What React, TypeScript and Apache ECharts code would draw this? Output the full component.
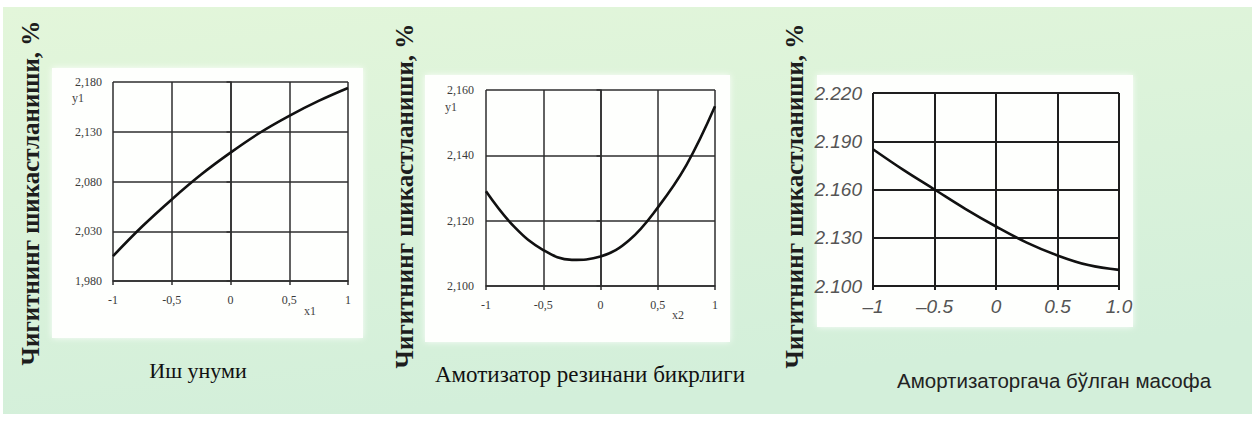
import React, { useEffect, useRef } from 'react';
import * as echarts from 'echarts';

// Factor levels (coded units) shared by all three plots
const X_POINTS = [-1, -0.75, -0.5, -0.25, 0, 0.25, 0.5, 0.75, 1];

// Seed damage, % — response to each factor
const WORK_OUTPUT = [2.005, 2.035, 2.062, 2.087, 2.109, 2.129, 2.146, 2.161, 2.174];
const RUBBER_STIFFNESS = [2.129, 2.118, 2.111, 2.108, 2.109, 2.114, 2.124, 2.137, 2.155];
const DAMPER_DISTANCE = [2.185, 2.172, 2.16, 2.148, 2.137, 2.127, 2.119, 2.113, 2.11];

// Tick labels
const P1_Y_LABELS = ['1,980', '2,030', '2,080', '2,130', '2,180'];
const P2_Y_LABELS = ['2,100', '2,120', '2,140', '2,160'];
const P3_Y_LABELS = ['2.100', '2.130', '2.160', '2.190', '2.220'];
const SERIF_X_LABELS = ['-1', '-0,5', '0', '0,5', '1'];
const P3_X_LABELS = ['–1', '–0.5', '0', '0.5', '1.0'];

// Texts
const Y_TITLE = 'Чигитнинг шикастланиши, %';
const CAPTIONS = ['Иш унуми', 'Амотизатор резинани бикрлиги', 'Амортизаторгача бўлган масофа'];
const Y_VAR = 'y1';
const X_VARS = ['x1', 'x2'];

const SERIF = "'Liberation Serif', 'DejaVu Serif', serif";
const SANS = "'Liberation Sans', Arial, sans-serif";

type Panel = {
  grid: { left: number; top: number; width: number; height: number };
  values: number[];
  yMin: number;
  yMax: number;
  yStep: number;
  yLabels: string[];
  xLabels: string[];
  labelFont: any;
  lineColor: string;
  lineWidth: number;
  yMargin: number;
  xMargin: number;
};

const SERIF_LABEL = { fontFamily: SERIF, fontSize: 12, color: '#3a3a3a' };

const PANELS: Panel[] = [
  {
    grid: { left: 113, top: 82, width: 235, height: 199 },
    values: WORK_OUTPUT,
    yMin: 1.98,
    yMax: 2.18,
    yStep: 0.05,
    yLabels: P1_Y_LABELS,
    xLabels: SERIF_X_LABELS,
    labelFont: SERIF_LABEL,
    lineColor: '#2e2e2e',
    lineWidth: 1.5,
    yMargin: 11,
    xMargin: 13,
  },
  {
    grid: { left: 486, top: 90, width: 229, height: 196 },
    values: RUBBER_STIFFNESS,
    yMin: 2.1,
    yMax: 2.16,
    yStep: 0.02,
    yLabels: P2_Y_LABELS,
    xLabels: SERIF_X_LABELS,
    labelFont: SERIF_LABEL,
    lineColor: '#2e2e2e',
    lineWidth: 1.5,
    yMargin: 12,
    xMargin: 13,
  },
  {
    grid: { left: 873, top: 93, width: 246, height: 193 },
    values: DAMPER_DISTANCE,
    yMin: 2.1,
    yMax: 2.22,
    yStep: 0.03,
    yLabels: P3_Y_LABELS,
    xLabels: P3_X_LABELS,
    labelFont: { fontFamily: SANS, fontSize: 19, fontStyle: 'italic', color: '#555' },
    lineColor: '#1e1e1e',
    lineWidth: 2,
    yMargin: 11,
    xMargin: 11,
  },
];

function tickIndex(value: number, min: number, step: number) {
  return Math.round((value - min) / step);
}

function textEl(text: string, x: number, y: number, style: any, extra: any = {}) {
  return {
    type: 'text',
    z: 10,
    x,
    y,
    ...extra,
    style: { text, align: 'center', verticalAlign: 'middle', ...style },
  };
}

export default function App() {
  const ref = useRef<HTMLDivElement>(null);

  useEffect(() => {
    if (!ref.current) return;
    const chart = echarts.init(ref.current, undefined, { renderer: 'svg' });

    const grids = PANELS.map((p) => ({ ...p.grid, containLabel: false }));

    const xAxes = PANELS.map((p, i) => ({
      type: 'value',
      gridIndex: i,
      min: -1,
      max: 1,
      interval: 0.5,
      axisLine: { show: true, lineStyle: { color: p.lineColor, width: p.lineWidth } },
      axisTick: { show: true, length: 4, lineStyle: { color: p.lineColor, width: p.lineWidth } },
      splitLine: { show: true, lineStyle: { color: p.lineColor, width: p.lineWidth } },
      axisLabel: {
        ...p.labelFont,
        margin: p.xMargin,
        formatter: (v: number) => p.xLabels[tickIndex(v, -1, 0.5)] ?? '',
      },
    }));

    const yAxes = PANELS.map((p, i) => ({
      type: 'value',
      gridIndex: i,
      min: p.yMin,
      max: p.yMax,
      interval: p.yStep,
      axisLine: { show: true, lineStyle: { color: p.lineColor, width: p.lineWidth } },
      axisTick: { show: true, length: 4, lineStyle: { color: p.lineColor, width: p.lineWidth } },
      splitLine: { show: true, lineStyle: { color: p.lineColor, width: p.lineWidth } },
      axisLabel: {
        ...p.labelFont,
        margin: p.yMargin,
        formatter: (v: number) => p.yLabels[tickIndex(v, p.yMin, p.yStep)] ?? '',
      },
    }));

    const series = PANELS.map((p, i) => ({
      type: 'line',
      xAxisIndex: i,
      yAxisIndex: i,
      smooth: 0.4,
      showSymbol: false,
      data: X_POINTS.map((x, k) => [x, p.values[k]]),
      lineStyle: { color: '#111', width: 2.6 },
      z: 5,
    }));

    const whiteBoxes = [
      { x: 52, y: 68, w: 311, h: 270 },
      { x: 425, y: 75, w: 305, h: 267 },
      { x: 817, y: 75, w: 316, h: 252 },
    ];

    const titleCenters = [
      [30, 193],
      [404, 196],
      [794, 196],
    ];

    const varStyle = { fill: '#444', fontFamily: SERIF, fontSize: 12 };

    const graphic: any[] = [
      {
        type: 'rect',
        z: -20,
        shape: { x: 3, y: 7, width: 1249, height: 407 },
        style: {
          fill: new echarts.graphic.LinearGradient(0, 0, 0.3, 1, [
            { offset: 0, color: '#e3f6da' },
            { offset: 1, color: '#d3efda' },
          ]),
        },
      },
      ...whiteBoxes.map((b) => ({
        type: 'rect',
        z: -10,
        shape: { x: b.x, y: b.y, width: b.w, height: b.h },
        style: { fill: '#fefffd', shadowColor: 'rgba(255,255,255,0.9)', shadowBlur: 6 },
      })),
      ...titleCenters.map(([cx, cy]) =>
        textEl(
          Y_TITLE,
          cx,
          cy,
          { fill: '#1d1d1d', fontFamily: SERIF, fontWeight: 'bold', fontSize: 25 },
          { rotation: Math.PI / 2 }
        )
      ),
      textEl(CAPTIONS[0], 198, 370, { fill: '#111', fontFamily: SERIF, fontSize: 22 }),
      textEl(CAPTIONS[1], 590, 374, { fill: '#111', fontFamily: SERIF, fontSize: 23 }),
      textEl(CAPTIONS[2], 1054, 380, { fill: '#222', fontFamily: SANS, fontSize: 20.5 }),
      // variable names next to the axes
      textEl(Y_VAR, 78, 98, varStyle),
      textEl(Y_VAR, 451, 107, varStyle),
      textEl(X_VARS[0], 310, 311, varStyle),
      textEl(X_VARS[1], 678, 315, varStyle),
    ];

    chart.setOption({
      animation: false,
      backgroundColor: '#ffffff',
      grid: grids,
      xAxis: xAxes,
      yAxis: yAxes,
      series,
      graphic,
    });

    return () => chart.dispose();
  }, []);

  return (
    <div
      ref={ref}
      style={{ position: 'absolute', left: 0, top: 0, width: 1256, height: 421 }}
    />
  );
}
